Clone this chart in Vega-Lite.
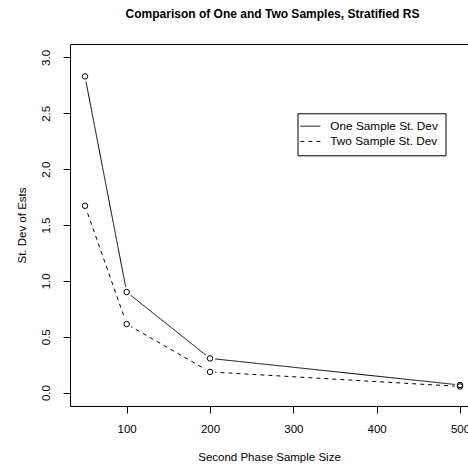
{
  "$schema": "https://vega.github.io/schema/vega-lite/v6.json",
  "width": 398,
  "height": 362,
  "autosize": {"type": "none"},
  "padding": {"left": 70, "top": 44, "right": 0, "bottom": 59},
  "background": "white",
  "title": {
    "text": "Comparison of One and Two Samples, Stratified RS",
    "font": "Liberation Sans",
    "fontSize": 12,
    "fontWeight": "bold",
    "color": "black",
    "anchor": "middle",
    "frame": "group",
    "dx": 3.5,
    "offset": 23
  },
  "config": {
    "view": {"stroke": null},
    "axis": {
      "labelFont": "Liberation Sans",
      "titleFont": "Liberation Sans",
      "labelFontSize": 11.5,
      "titleFontSize": 11.5,
      "titleFontWeight": "normal",
      "labelColor": "black",
      "titleColor": "black",
      "domainColor": "black",
      "tickColor": "black",
      "grid": false,
      "tickSize": 7,
      "domainWidth": 1,
      "tickWidth": 1
    },
    "legend": {
      "labelFont": "Liberation Sans",
      "labelFontSize": 11.8,
      "labelColor": "black"
    }
  },
  "data": {
    "values": [
      {"n": 50, "series": "One Sample St. Dev", "sd": 2.83},
      {"n": 100, "series": "One Sample St. Dev", "sd": 0.90},
      {"n": 200, "series": "One Sample St. Dev", "sd": 0.306},
      {"n": 500, "series": "One Sample St. Dev", "sd": 0.068},
      {"n": 50, "series": "Two Sample St. Dev", "sd": 1.672},
      {"n": 100, "series": "Two Sample St. Dev", "sd": 0.613},
      {"n": 200, "series": "Two Sample St. Dev", "sd": 0.185},
      {"n": 500, "series": "Two Sample St. Dev", "sd": 0.055}
    ]
  },
  "resolve": {"axis": {"x": "independent"}},
  "layer": [
    {
      "mark": {"type": "line", "color": "black", "strokeWidth": 1},
      "encoding": {
        "x": {
          "field": "n", "type": "quantitative",
          "scale": {"domain": [32, 509.6], "nice": false, "zero": false},
          "axis": {
            "orient": "bottom",
            "values": [100, 200, 300, 400, 500],
            "title": "Second Phase Sample Size",
            "labelPadding": 10,
            "titleY": 51,
            "titleBaseline": "middle"
          }
        },
        "y": {
          "field": "sd", "type": "quantitative",
          "scale": {"domain": [-0.12, 3.12], "nice": false, "zero": false},
          "axis": {
            "values": [0, 0.5, 1, 1.5, 2, 2.5, 3],
            "format": ".1f",
            "labelAngle": -90,
            "labelAlign": "center",
            "labelBaseline": "bottom",
            "labelPadding": 12,
            "title": "St. Dev of Ests",
            "titleAngle": -90,
            "titleAlign": "center",
            "titleBaseline": "middle",
            "titleX": -48,
            "titleY": 181
          }
        },
        "strokeDash": {
          "field": "series", "type": "nominal",
          "scale": {
            "domain": ["One Sample St. Dev", "Two Sample St. Dev"],
            "range": [[1, 0], [4, 4]]
          },
          "legend": {
            "title": null,
            "orient": "none",
            "legendX": 227.5,
            "legendY": 69.3,
            "strokeColor": "black",
            "fillColor": "white",
            "padding": 7,
            "symbolType": "M-2,0L2,0",
            "symbolSize": 100,
            "symbolStrokeColor": "black",
            "symbolStrokeWidth": 1,
            "labelOffset": 14,
            "rowPadding": 2.2
          }
        }
      }
    },
    {
      "mark": {"type": "point", "shape": "circle", "filled": true, "color": "white", "size": 110, "opacity": 1},
      "encoding": {
        "x": {"field": "n", "type": "quantitative", "axis": null},
        "y": {"field": "sd", "type": "quantitative"}
      }
    },
    {
      "mark": {"type": "point", "shape": "circle", "filled": false, "color": "black", "size": 30, "strokeWidth": 1, "opacity": 1},
      "encoding": {
        "x": {
          "field": "n", "type": "quantitative",
          "axis": {"orient": "top", "ticks": false, "labels": false, "title": null, "domain": true}
        },
        "y": {"field": "sd", "type": "quantitative"}
      }
    }
  ]
}
